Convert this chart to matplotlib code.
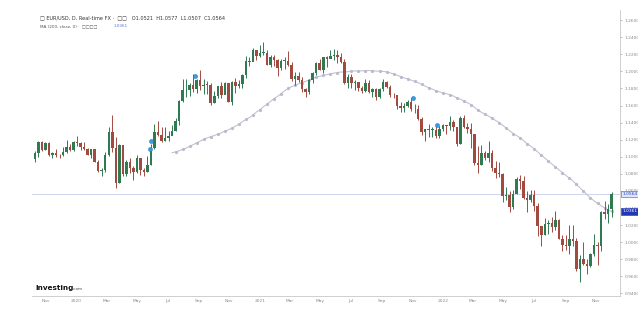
import matplotlib
matplotlib.use("Agg")
import matplotlib.pyplot as plt
import matplotlib.dates as mdates
import numpy as np
import pandas as pd

# weekly EUR/USD candles (Friday closes), Oct 2019 - Dec 2022
weeks = pd.date_range("2019-10-11", periods=165, freq="7D")
first_open = 1.0975
close = [
    1.1040, 1.1172, 1.1080, 1.1165, 1.1018, 1.1050, 1.1020, 1.1017, 1.1060, 1.1120,
    1.1080, 1.1177, 1.1160, 1.1120, 1.1090, 1.1025, 1.1094, 1.0945, 1.0830, 1.0847,
    1.1025, 1.1285, 1.1105, 1.0694, 1.1140, 1.0803, 1.0935, 1.0875, 1.0820, 1.0985,
    1.0840, 1.0820, 1.0900, 1.1100, 1.1290, 1.1255, 1.1180, 1.1220, 1.1245, 1.1300,
    1.1425, 1.1655, 1.1780, 1.1785, 1.1840, 1.1795, 1.1905, 1.1835, 1.1845, 1.1840,
    1.1630, 1.1715, 1.1825, 1.1720, 1.1860, 1.1645, 1.1875, 1.1835, 1.1855, 1.1960,
    1.2120, 1.2110, 1.2255, 1.2185, 1.2215, 1.2220, 1.2080, 1.2170, 1.2135, 1.2045,
    1.2120, 1.2120, 1.2075, 1.1915, 1.1950, 1.1905, 1.1795, 1.1760, 1.1900, 1.1985,
    1.2095, 1.2020, 1.2165, 1.2140, 1.2180, 1.2190, 1.2165, 1.2110, 1.1860, 1.1935,
    1.1865, 1.1875, 1.1805, 1.1770, 1.1870, 1.1760, 1.1795, 1.1700, 1.1795, 1.1880,
    1.1815, 1.1725, 1.1720, 1.1595, 1.1570, 1.1600, 1.1645, 1.1560, 1.1555, 1.1445,
    1.1290, 1.1320, 1.1315, 1.1315, 1.1240, 1.1320, 1.1370, 1.1360, 1.1410, 1.1345,
    1.1145, 1.1455, 1.1350, 1.1320, 1.1270, 1.0930, 1.0910, 1.1050, 1.0985, 1.1045,
    1.0875, 1.0810, 1.0795, 1.0545, 1.0550, 1.0410, 1.0560, 1.0735, 1.0720, 1.0520,
    1.0495, 1.0555, 1.0425, 1.0185, 1.0085, 1.0210, 1.0220, 1.0180, 1.0260, 1.0040,
    0.9965, 0.9955, 1.0040, 1.0015, 0.9690, 0.9800, 0.9740, 0.9720, 0.9860, 0.9965,
    0.9960, 1.0355, 1.0325, 1.0395, 1.0564,
]
high = [
    1.1063, 1.1180, 1.1180, 1.1175, 1.1176, 1.1060, 1.1090, 1.1030, 1.1117, 1.1200,
    1.1150, 1.1188, 1.1240, 1.1170, 1.1173, 1.1100, 1.1097, 1.1095, 1.0960, 1.0865,
    1.1053, 1.1355, 1.1495, 1.1237, 1.1147, 1.1090, 1.0968, 1.0990, 1.0890, 1.1019,
    1.0980, 1.0875, 1.1010, 1.1147, 1.1384, 1.1422, 1.1350, 1.1349, 1.1303, 1.1371,
    1.1452, 1.1660, 1.1909, 1.1916, 1.1865, 1.1966, 1.1916, 1.2011, 1.1917, 1.1882,
    1.1870, 1.1770, 1.1830, 1.1880, 1.1881, 1.1860, 1.1891, 1.1920, 1.1894, 1.1964,
    1.2177, 1.2166, 1.2273, 1.2250, 1.2310, 1.2349, 1.2250, 1.2190, 1.2190, 1.2150,
    1.2150, 1.2170, 1.2243, 1.2115, 1.1990, 1.1990, 1.1940, 1.1810, 1.1915, 1.1995,
    1.2116, 1.2150, 1.2173, 1.2180, 1.2245, 1.2266, 1.2255, 1.2218, 1.2145, 1.1975,
    1.1975, 1.1895, 1.1880, 1.1830, 1.1909, 1.1900, 1.1805, 1.1805, 1.1800, 1.1909,
    1.1885, 1.1845, 1.1750, 1.1720, 1.1640, 1.1625, 1.1670, 1.1692, 1.1616, 1.1610,
    1.1465, 1.1325, 1.1383, 1.1355, 1.1360, 1.1360, 1.1386, 1.1370, 1.1482, 1.1435,
    1.1340, 1.1483, 1.1495, 1.1395, 1.1395, 1.1270, 1.1121, 1.1137, 1.1070, 1.1185,
    1.1075, 1.0955, 1.0936, 1.0810, 1.0642, 1.0595, 1.0608, 1.0765, 1.0787, 1.0774,
    1.0601, 1.0606, 1.0615, 1.0462, 1.0185, 1.0278, 1.0256, 1.0293, 1.0368, 1.0275,
    1.0090, 1.0079, 1.0198, 1.0197, 1.0051, 0.9853, 0.9999, 0.9809, 0.9876, 1.0094,
    1.0000, 1.0364, 1.0481, 1.0448, 1.0594,
]
low = [
    1.0940, 1.1000, 1.1072, 1.1075, 1.1013, 1.0989, 1.1000, 1.0981, 1.1010, 1.1040,
    1.1065, 1.1070, 1.1125, 1.1085, 1.1085, 1.1020, 1.0990, 1.0943, 1.0827, 1.0778,
    1.0828, 1.1010, 1.1055, 1.0636, 1.0690, 1.0780, 1.0770, 1.0815, 1.0727, 1.0810,
    1.0782, 1.0775, 1.0820, 1.0900, 1.1095, 1.1240, 1.1168, 1.1190, 1.1186, 1.1255,
    1.1300, 1.1370, 1.1640, 1.1695, 1.1712, 1.1755, 1.1753, 1.1782, 1.1737, 1.1737,
    1.1612, 1.1625, 1.1686, 1.1688, 1.1760, 1.1640, 1.1603, 1.1745, 1.1800, 1.1800,
    1.1925, 1.2059, 1.2125, 1.2130, 1.2170, 1.2193, 1.2075, 1.2055, 1.2060, 1.1952,
    1.2020, 1.2025, 1.2065, 1.1890, 1.1836, 1.1874, 1.1760, 1.1704, 1.1740, 1.1870,
    1.1960, 1.2015, 1.1985, 1.2050, 1.2160, 1.2133, 1.2104, 1.2095, 1.1847, 1.1804,
    1.1807, 1.1782, 1.1772, 1.1752, 1.1755, 1.1752, 1.1705, 1.1664, 1.1690, 1.1770,
    1.1800, 1.1700, 1.1685, 1.1563, 1.1529, 1.1525, 1.1585, 1.1535, 1.1513, 1.1432,
    1.1250, 1.1186, 1.1235, 1.1228, 1.1222, 1.1222, 1.1300, 1.1272, 1.1315, 1.1300,
    1.1121, 1.1155, 1.1340, 1.1280, 1.1106, 1.0900, 1.0806, 1.0900, 1.0960, 1.0945,
    1.0837, 1.0757, 1.0760, 1.0470, 1.0492, 1.0350, 1.0390, 1.0560, 1.0627, 1.0507,
    1.0358, 1.0470, 1.0365, 1.0071, 0.9952, 1.0080, 1.0097, 1.0123, 1.0140, 1.0035,
    0.9900, 0.9910, 0.9864, 0.9955, 0.9668, 0.9536, 0.9730, 0.9632, 0.9705, 0.9840,
    0.9730, 0.9900, 1.0271, 1.0222, 1.0290,
]

ma_len = 40          # ~200 trading days on weekly bars
last_price = 1.0564
header = "EUR/USD, D, Real-time FX"
ohlc_text = "O1.0521  H1.0577  L1.0507  C1.0564"
ma_text = "MA (200, close, 0)"

# event markers (date, price)
ev_dates = pd.to_datetime(["2020-05-28", "2020-05-30", "2020-08-24", "2021-11-02", "2021-12-19"])
ev_price = [1.1095, 1.1180, 1.1945, 1.1688, 1.1372]

df = pd.DataFrame({"c": close, "h": high, "l": low}, index=weeks)
df["o"] = df["c"].shift(1).fillna(first_open)
ma = df["c"].rolling(ma_len).mean()
ma_last = ma.iloc[-1]

up = "#2f7a52"
down = "#a34a40"
grey = "#8a8a8a"

fig = plt.figure(figsize=(6.38, 3.10), dpi=100)
ax = fig.add_axes([0.050, 0.045, 0.922, 0.923])

x = mdates.date2num(df.index)
colors = np.where(df["c"] >= df["o"], up, down)
ax.vlines(x, df["l"], df["h"], colors=colors, lw=0.7, zorder=3)
ax.bar(x, (df["c"] - df["o"]).abs().clip(lower=0.0008), bottom=np.minimum(df["o"], df["c"]),
       width=5.0, color=colors, lw=0, zorder=3)

ax.plot(df.index, ma, color="#bdbacd", lw=0.7, marker="o", ms=1.3, markevery=2, zorder=2)
ax.axhline(last_price, color="#c9cdea", lw=0.6, zorder=1)

ax.scatter(ev_dates, ev_price, s=9, color="#3b9be0", edgecolors="#1f74b8", lw=0.3, zorder=5)

ax.set_xlim(pd.Timestamp("2019-10-05"), pd.Timestamp("2022-12-19"))
ax.set_ylim(0.937, 1.272)

# axes styling
for s in ["top", "left"]:
    ax.spines[s].set_visible(False)
ax.spines["right"].set_color("#c8c8c8")
ax.spines["bottom"].set_color("#c8c8c8")
ax.spines["right"].set_linewidth(0.6)
ax.spines["bottom"].set_linewidth(0.6)

ax.yaxis.tick_right()
ax.set_yticks(np.arange(0.94, 1.2601, 0.02))
ax.yaxis.set_major_formatter(matplotlib.ticker.FormatStrFormatter("%.4f"))
ax.tick_params(axis="y", labelsize=3.2, colors=grey, length=1.5, width=0.4, pad=1.5)

ticks = pd.date_range("2019-11-01", "2022-11-01", freq="2MS")
ax.set_xticks(ticks)
ax.set_xticklabels([str(t.year) if t.month == 1 else t.strftime("%b") for t in ticks])
ax.tick_params(axis="x", labelsize=3.2, colors=grey, length=0, pad=2)

# price labels on the right axis
ax.annotate(f"{last_price:.4f}", xy=(1.0, last_price), xycoords=("axes fraction", "data"),
            xytext=(1.5, 0), textcoords="offset points", fontsize=3.2, color="#2a45c0",
            va="center", ha="left",
            bbox=dict(boxstyle="square,pad=0.25", fc="#dfe6fa", ec="#3a55d0", lw=0.4))
ax.annotate(f"{ma_last:.4f}", xy=(1.0, ma_last), xycoords=("axes fraction", "data"),
            xytext=(1.5, 0), textcoords="offset points", fontsize=3.2, color="white",
            va="center", ha="left",
            bbox=dict(boxstyle="square,pad=0.25", fc="#2236b8", ec="#2236b8", lw=0.4))

# header
fig.text(0.062, 0.942, "\u25a1 " + header + " \u00b7  \u25a1\u25a1   " + ohlc_text,
         fontsize=3.6, color="#333333", va="center")
fig.text(0.062, 0.916, ma_text + " \u00b7  \u25a1\u25a1\u25a1\u25a1", fontsize=3.0,
         color="#555555", va="center")
fig.text(0.178, 0.916, f"{ma_last:.4f}", fontsize=3.0, color="#5a6fd8", va="center")

# logo
fig.text(0.056, 0.072, "Investing", fontsize=5.2, fontweight="bold", color="#111111", va="center")
fig.text(0.114, 0.068, ".com", fontsize=3.0, color="#444444", va="center")

fig.savefig("out.png", dpi=100)
